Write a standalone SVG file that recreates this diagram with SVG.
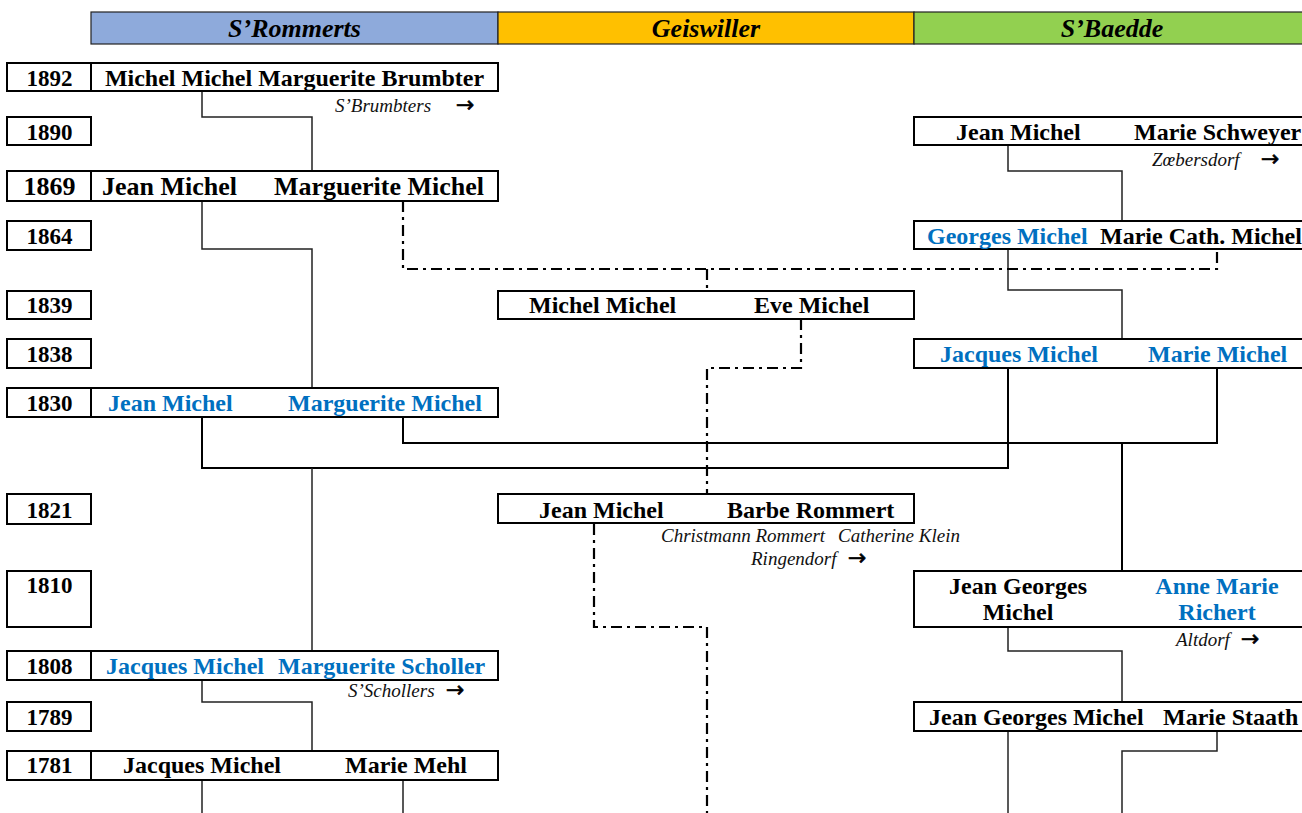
<svg xmlns="http://www.w3.org/2000/svg" width="1302" height="813" viewBox="0 0 1302 813">
<style>
.hdr{stroke:#222;stroke-width:1.2}
.ht{font-family:"Liberation Serif",serif;font-weight:bold;font-style:italic;font-size:26px;text-anchor:middle;fill:#000}
.box{fill:#fff;stroke:#000;stroke-width:2}
.yr{font-family:"Liberation Serif",serif;font-weight:bold;font-size:23px;text-anchor:middle;fill:#000}
.nm{font-family:"Liberation Serif",serif;font-weight:bold;font-size:24px;fill:#000}
.big{font-size:26px}
.bl{fill:#0070c0}
.mid{text-anchor:middle}
.note{font-family:"Liberation Serif",serif;font-style:italic;font-size:19px;fill:#111}
.arr{font-family:"DejaVu Sans",sans-serif;font-size:22px;fill:#000;stroke:#000;stroke-width:0.6}
.ln{fill:none;stroke:#222;stroke-width:1.5}
.lnb{fill:none;stroke:#000;stroke-width:2}
.dd{fill:none;stroke:#000;stroke-width:2.2;stroke-dasharray:11 5 3 5}
</style>

<g id="header">
<rect class="hdr" x="91" y="12" width="407" height="32" fill="#8eaadb"/>
<rect class="hdr" x="498" y="12" width="416" height="32" fill="#ffc000"/>
<rect class="hdr" x="914" y="12" width="390" height="32" fill="#92d050"/>
<text class="ht" x="294.5" y="37">S’Rommerts</text>
<text class="ht" x="706" y="37">Geiswiller</text>
<text class="ht" x="1112" y="37">S’Baedde</text>
</g>

<g id="connectors">
<path class="ln" d="M202 91 V117 H312 V171"/>
<path class="ln" d="M202 201 V249 H312 V388"/>
<path class="lnb" d="M202 417 V468 H1008 V368"/>
<path class="lnb" d="M403 417 V443 H1217 V368"/>
<path class="ln" d="M312 468 V651"/>
<path class="ln" d="M202 680 V702 H312 V751"/>
<path class="ln" d="M202 780 V813 M403 780 V813"/>
<path class="ln" d="M1008 145 V171 H1122 V221"/>
<path class="ln" d="M1008 249 V290 H1122 V339"/>
<path class="lnb" d="M1122 443 V571"/>
<path class="ln" d="M1008 627 V651 H1122 V702"/>
<path class="ln" d="M1008 731 V813"/>
<path class="ln" d="M1217 731 V751 H1122 V813"/>
<path class="dd" d="M403 201 V269 H1217 V249"/>
<path class="dd" d="M707 269 V291"/>
<path class="dd" d="M801 319 V368 H707 V494"/>
<path class="dd" d="M594 524 V627 H707 V813"/>
</g>

<g id="row1892">
<rect class="box" x="7" y="63" width="84" height="28"/>
<rect class="box" x="91" y="63" width="407" height="28"/>
<text class="yr" x="49.5" y="86">1892</text>
<text class="nm mid" x="294.5" y="86">Michel Michel Marguerite Brumbter</text>
<text class="note" x="335" y="112" font-size="20px">S’Brumbters</text>
<text class="arr" x="456" y="112">→</text>
</g>

<g id="row1890">
<rect class="box" x="7" y="117" width="84" height="28"/>
<text class="yr" x="49.5" y="140">1890</text>
</g>

<g id="baedde1890">
<rect class="box" x="914" y="117" width="390" height="28"/>
<text class="nm" x="956" y="140">Jean Michel</text>
<text class="nm" x="1134" y="140">Marie Schweyer</text>
<text class="note" x="1152" y="166">Zœbersdorf</text>
<text class="arr" x="1261" y="166">→</text>
</g>

<g id="row1869">
<rect class="box" x="7" y="171" width="84" height="30"/>
<rect class="box" x="91" y="171" width="407" height="30"/>
<text class="yr big" x="49.5" y="195">1869</text>
<text class="nm big" x="102" y="195">Jean Michel</text>
<text class="nm big" x="274" y="195">Marguerite Michel</text>
</g>

<g id="row1864">
<rect class="box" x="7" y="221" width="84" height="29"/>
<text class="yr" x="49.5" y="244">1864</text>
</g>

<g id="baedde1864">
<rect class="box" x="914" y="221" width="390" height="28"/>
<text class="nm bl" x="927" y="244">Georges Michel</text>
<text class="nm" x="1100" y="244">Marie Cath. Michel</text>
</g>

<g id="row1839">
<rect class="box" x="7" y="291" width="84" height="28"/>
<text class="yr" x="49.5" y="313">1839</text>
</g>

<g id="geis1839">
<rect class="box" x="498" y="291" width="416" height="28"/>
<text class="nm" x="529" y="313">Michel Michel</text>
<text class="nm" x="754" y="313">Eve Michel</text>
</g>

<g id="row1838">
<rect class="box" x="7" y="339" width="84" height="29"/>
<text class="yr" x="49.5" y="362">1838</text>
</g>

<g id="baedde1838">
<rect class="box" x="914" y="339" width="390" height="29"/>
<text class="nm bl" x="940" y="362">Jacques Michel</text>
<text class="nm bl" x="1148" y="362">Marie Michel</text>
</g>

<g id="row1830">
<rect class="box" x="7" y="388" width="84" height="29"/>
<rect class="box" x="91" y="388" width="407" height="29"/>
<text class="yr" x="49.5" y="411">1830</text>
<text class="nm bl" x="108" y="411">Jean Michel</text>
<text class="nm bl" x="288" y="411">Marguerite Michel</text>
</g>

<g id="row1821">
<rect class="box" x="7" y="494" width="84" height="30"/>
<text class="yr" x="49.5" y="518">1821</text>
</g>

<g id="geis1821">
<rect class="box" x="498" y="494" width="416" height="29"/>
<text class="nm" x="539" y="518">Jean Michel</text>
<text class="nm" x="727" y="518">Barbe Rommert</text>
<text class="note" x="661" y="542" font-size="17.5px">Christmann Rommert</text>
<text class="note" x="838" y="542" font-size="17.5px">Catherine Klein</text>
<text class="note" x="751" y="565">Ringendorf</text>
<text class="arr" x="848" y="565">→</text>
</g>

<g id="row1810">
<rect class="box" x="7" y="571" width="84" height="56"/>
<text class="yr" x="49.5" y="593">1810</text>
</g>

<g id="baedde1810">
<rect class="box" x="914" y="571" width="390" height="56"/>
<text class="nm mid" x="1018" y="594">Jean Georges</text>
<text class="nm mid" x="1018" y="620">Michel</text>
<text class="nm mid bl" x="1217" y="594">Anne Marie</text>
<text class="nm mid bl" x="1217" y="620">Richert</text>
<text class="note" x="1176" y="646">Altdorf</text>
<text class="arr" x="1241" y="646">→</text>
</g>

<g id="row1808">
<rect class="box" x="7" y="651" width="84" height="29"/>
<rect class="box" x="91" y="651" width="407" height="29"/>
<text class="yr" x="49.5" y="674">1808</text>
<text class="nm bl" x="106" y="674">Jacques Michel</text>
<text class="nm bl" x="278" y="674">Marguerite Scholler</text>
<text class="note" x="348" y="697" font-size="18px">S’Schollers</text>
<text class="arr" x="446" y="697">→</text>
</g>

<g id="row1789">
<rect class="box" x="7" y="702" width="84" height="29"/>
<text class="yr" x="49.5" y="725">1789</text>
</g>

<g id="baedde1789">
<rect class="box" x="914" y="702" width="390" height="29"/>
<text class="nm" x="929" y="725">Jean Georges Michel</text>
<text class="nm" x="1163" y="725">Marie Staath</text>
</g>

<g id="row1781">
<rect class="box" x="7" y="751" width="84" height="29"/>
<rect class="box" x="91" y="751" width="407" height="29"/>
<text class="yr" x="49.5" y="773">1781</text>
<text class="nm" x="123" y="773">Jacques Michel</text>
<text class="nm" x="345" y="773">Marie Mehl</text>
</g>
</svg>
